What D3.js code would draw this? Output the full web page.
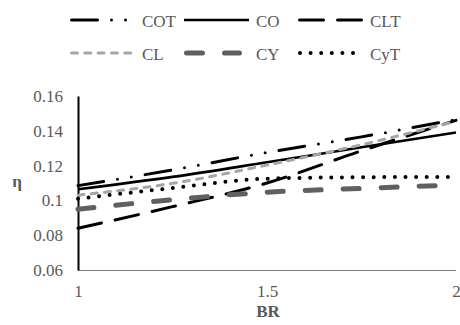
<!DOCTYPE html>
<html>
<head>
<meta charset="utf-8">
<script src="https://cdn.jsdelivr.net/npm/d3@7"></script>
<style>
  html, body { margin: 0; padding: 0; background: #fff; }
</style>
</head>
<body>
<svg id="chart" width="460" height="325"></svg>
<script>
// Blade ratio samples and efficiency per configuration
const br = [1, 1.25, 1.5, 1.75, 2];
const COT = [0.1085, 0.1175, 0.1275, 0.1365, 0.1465];
const CO  = [0.1064, 0.1135, 0.1219, 0.1305, 0.1390];
const CLT = [0.0840, 0.0964, 0.1100, 0.1285, 0.1460];
const CL  = [0.1030, 0.1098, 0.1203, 0.1320, 0.1455];
const CY  = [0.0949, 0.1004, 0.1047, 0.1069, 0.1089];
const CyT = [0.1010, 0.1071, 0.1125, 0.1133, 0.1135];

const xTicks = [1, 1.5, 2];
const yTicks = [0.06, 0.08, 0.1, 0.12, 0.14, 0.16];
const seriesNames = ["COT", "CO", "CLT", "CL", "CY", "CyT"];
const seriesValues = [COT, CO, CLT, CL, CY, CyT];

const SERIF = "'Liberation Serif', 'Times New Roman', Times, serif";

// Line styles per series
const styles = {
  COT: { color: "#000", width: 3, dash: "26,14,0,14,0,14", cap: "round" },
  CO:  { color: "#000", width: 2.6, dash: null, cap: "butt" },
  CLT: { color: "#000", width: 3, dash: "24,14", cap: "round" },
  CL:  { color: "#a6a6a6", width: 3, dash: "6,7.3", cap: "round" },
  CY:  { color: "#606060", width: 5, dash: "16,22", cap: "round" },
  CyT: { color: "#000", width: 4, dash: "0,10.6", cap: "round" }
};

const svg = d3.select("#chart");
const x = d3.scaleLinear().domain([1, 2]).range([78, 456]);
const y = d3.scaleLinear().domain([0.06, 0.16]).range([270, 96]);

// Y axis: solid line with labels only
const yAxis = d3.axisLeft(y).tickValues(yTicks).tickSize(0).tickPadding(15)
  .tickFormat(d => String(+d.toFixed(2)));
const gy = svg.append("g").attr("transform", `translate(${x(1)},0)`).call(yAxis)
  .attr("font-family", null).attr("font-size", null);
gy.select(".domain").attr("stroke", "#000").attr("stroke-width", 2);
gy.selectAll("text").style("font-family", SERIF).style("font-size", "17px").attr("fill", "#595959");

// X axis: fine dotted baseline with labels
const xAxis = d3.axisBottom(x).tickValues(xTicks).tickSize(0).tickPadding(15)
  .tickFormat(d => String(d));
const gx = svg.append("g").attr("transform", `translate(0,${y(0.06)})`).call(xAxis)
  .attr("font-family", null).attr("font-size", null);
gx.select(".domain").attr("stroke", "#000").attr("stroke-width", 1).attr("stroke-dasharray", "1,1");
gx.selectAll("text").style("font-family", SERIF).style("font-size", "17px").attr("fill", "#595959");

// Axis titles
svg.append("text").attr("x", 268).attr("y", 317).attr("text-anchor", "middle")
  .style("font-family", SERIF).style("font-size", "17px")
  .attr("font-weight", "bold").attr("fill", "#595959").text("BR");
svg.append("text").attr("x", 17).attr("y", 187).attr("text-anchor", "middle")
  .style("font-family", SERIF).style("font-size", "17px")
  .attr("font-weight", "bold").attr("fill", "#595959").text("η");

// Series lines
const line = d3.line().x(d => x(d[0])).y(d => y(d[1])).curve(d3.curveMonotoneX);
seriesNames.forEach((name, i) => {
  const s = styles[name];
  const pts = br.map((b, j) => [b, seriesValues[i][j]]);
  svg.append("path").datum(pts)
    .attr("d", line)
    .attr("fill", "none")
    .attr("stroke", s.color)
    .attr("stroke-width", s.width)
    .attr("stroke-linecap", s.cap)
    .attr("stroke-dasharray", s.dash);
});

// Legend in two rows of three
const legendCols = [70, 184, 298];
const legendRows = [20, 53];
const sampleLen = { COT: 56, CO: 65, CLT: 62, CL: 63, CY: 53, CyT: 57 };
const sampleInset = { COT: 1.5, CO: 0, CLT: 1.5, CL: 1.5, CY: 2.5, CyT: 2 };
seriesNames.forEach((name, i) => {
  const s = styles[name];
  const cx = legendCols[i % 3];
  const cy = legendRows[Math.floor(i / 3)];
  const x0 = cx + sampleInset[name];
  svg.append("line")
    .attr("x1", x0).attr("x2", x0 + sampleLen[name])
    .attr("y1", cy).attr("y2", cy)
    .attr("stroke", s.color).attr("stroke-width", s.width)
    .attr("stroke-linecap", s.cap).attr("stroke-dasharray", s.dash);
  svg.append("text").attr("x", cx + 72).attr("y", cy + 6.5)
    .style("font-family", SERIF).style("font-size", "17px")
    .attr("fill", "#595959").text(name);
});
</script>
</body>
</html>
